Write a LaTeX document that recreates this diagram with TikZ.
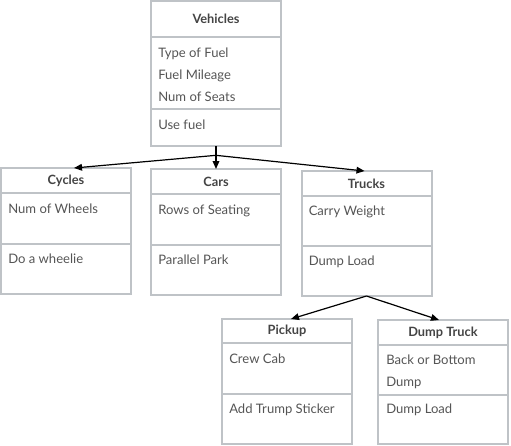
\documentclass[tikz,border=0pt]{standalone}
\usepackage{fontspec}
\setmainfont{Lato}
\usetikzlibrary{positioning, arrows.meta}
\definecolor{boxgray}{HTML}{BFC3C7}
\definecolor{titlegray}{HTML}{444444}
\definecolor{membergray}{HTML}{555555}

\begin{document}
\begin{tikzpicture}[x=0.75pt,y=-0.75pt,
    classbox/.style={rectangle,draw=boxgray,line width=1.5pt,outer sep=0pt,minimum width=97.5pt},
    classtitle/.style={classbox,font=\fontsize{9.6}{11}\selectfont\bfseries,text=titlegray},
    member/.style={anchor=base west,inner sep=0pt,align=left,font=\fontsize{9.8}{16.5}\selectfont,text=membergray},
    inherit/.style={-{Triangle[length=6pt,width=5pt]},line width=0.9pt,black}]
    \useasboundingbox (0,0) rectangle (511,446);

    % Vehicles
    \node[classtitle,minimum height=27pt] (veh) at (216,19) {Vehicles};
    \node[classbox,minimum height=54pt,below=0pt of veh] (vehAttr) {};
    \node[classbox,minimum height=27.75pt,below=0pt of vehAttr] (vehOps) {};
    % base anchor sits on the last line
    \node[member] (vehAttrText) at ([shift={(7,64)}]vehAttr.north west) {Type of Fuel\\Fuel Mileage\\Num of Seats};
    \node[member] (vehOpsText) at ([shift={(7,20)}]vehOps.north west) {Use fuel};

    % Cycles
    \node[classtitle,minimum height=18.75pt] (cyc) at (66,180.5) {Cycles};
    \node[classbox,minimum height=38.25pt,below=0pt of cyc] (cycAttr) {};
    \node[classbox,minimum height=37.5pt,below=0pt of cycAttr] (cycOps) {};
    \node[member] (cycAttrText) at ([shift={(7,20)}]cycAttr.north west) {Num of Wheels};
    \node[member] (cycOpsText) at ([shift={(7,19.5)}]cycOps.north west) {Do a wheelie};

    % Cars
    \node[classtitle,minimum height=18.75pt] (car) at (216,181.5) {Cars};
    \node[classbox,minimum height=38.25pt,below=0pt of car] (carAttr) {};
    \node[classbox,minimum height=37.5pt,below=0pt of carAttr] (carOps) {};
    \node[member] (carAttrText) at ([shift={(7,20.5)}]carAttr.north west) {Rows of Seating};
    \node[member] (carOpsText) at ([shift={(7,19.5)}]carOps.north west) {Parallel Park};

    % Trucks
    \node[classtitle,minimum height=18.75pt] (trk) at (366.5,183.5) {Trucks};
    \node[classbox,minimum height=37.5pt,below=0pt of trk] (trkAttr) {};
    \node[classbox,minimum height=37.5pt,below=0pt of trkAttr] (trkOps) {};
    \node[member] (trkAttrText) at ([shift={(7,19.5)}]trkAttr.north west) {Carry Weight};
    \node[member] (trkOpsText) at ([shift={(7,19)}]trkOps.north west) {Dump Load};

    % Pickup
    \node[classtitle,minimum height=18pt] (pck) at (287,331) {Pickup};
    \node[classbox,minimum height=38.25pt,below=0pt of pck] (pckAttr) {};
    \node[classbox,minimum height=37.5pt,below=0pt of pckAttr] (pckOps) {};
    \node[member] (pckAttrText) at ([shift={(7,20)}]pckAttr.north west) {Crew Cab};
    \node[member] (pckOpsText) at ([shift={(7,19.5)}]pckOps.north west) {Add Trump Sticker};

    % Dump Truck
    \node[classtitle,minimum height=18.75pt] (dmp) at (443,332.5) {Dump Truck};
    \node[classbox,minimum height=37.5pt,below=0pt of dmp] (dmpAttr) {};
    \node[classbox,minimum height=36.75pt,below=0pt of dmpAttr] (dmpOps) {};
    \node[member] (dmpAttrText) at ([shift={(8,41.5)}]dmpAttr.north west) {Back or Bottom\\Dump};
    \node[member] (dmpOpsText) at ([shift={(8,18.5)}]dmpOps.north west) {Dump Load};

    % inheritance arrows
    \coordinate (vehJoin) at ([yshift=-7]vehOps.south);
    \draw[line width=0.9pt] (vehOps.south) -- (vehJoin);
    \draw[inherit] (vehJoin) -- ([xshift=6]cyc.north);
    \draw[inherit] (vehJoin) -- (car.north);
    \draw[inherit] (vehJoin) -- ([xshift=-1.5]trk.north);
    \draw[inherit] (trkOps.south) -- ([xshift=3]pck.north);
    \draw[inherit] (trkOps.south) -- ([xshift=-3]dmp.north);
\end{tikzpicture}
\end{document}
